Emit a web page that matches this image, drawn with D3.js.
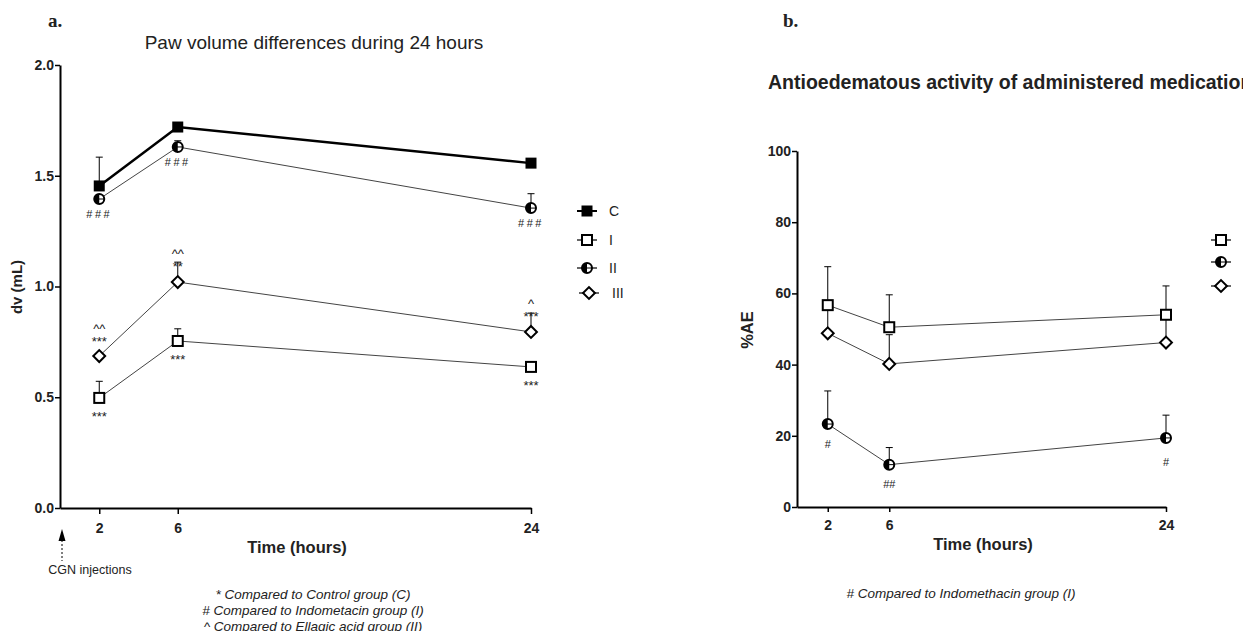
<!DOCTYPE html>
<html>
<head>
<meta charset="utf-8">
<script src="https://cdn.jsdelivr.net/npm/d3@7"></script>
<style>
  body { margin: 0; background: #fff; }
  svg text { font-family: "Liberation Sans", Arial, sans-serif; fill: #222; }
</style>
</head>
<body>
<svg id="chart" width="1243" height="631"></svg>
<script>
// hours after injection
const hours = [2, 6, 24];

// panel a: paw volume difference (mL), mean and SEM
const dvC = [1.454, 1.72, 1.557];
const dvCErr = [0.13, 0.005, 0.005];
const dvI = [0.497, 0.754, 0.637];
const dvIErr = [0.075, 0.055, 0.01];
const dvII = [1.395, 1.63, 1.354];
const dvIIErr = [0.01, 0.028, 0.065];
const dvIII = [0.686, 1.02, 0.795];
const dvIIIErr = [0.01, 0.09, 0.085];

// significance marks, panel a
const sigIIBelow = ["###", "###", "###"];
const sigIBelow = ["***", "***", "***"];
const sigIIIStar = ["***", "**", "***"];
const sigIIICaret = ["^^", "^^", "^"];

// panel b: % antioedematous effect, mean and SEM
const aeI = [56.7, 50.5, 54.0];
const aeIErr = [10.8, 9.1, 8.1];
const aeII = [23.3, 11.9, 19.4];
const aeIIErr = [9.3, 4.8, 6.4];
const aeIII = [48.8, 40.2, 46.2];
const aeIIIErr = [7.5, 8.2, 7.3];
const sigAeII = ["#", "##", "#"];

const yTicksA = [0, 0.5, 1.0, 1.5, 2.0];
const yTicksB = [0, 20, 40, 60, 80, 100];
const legendA = ["C", "I", "II", "III"];

const svg = d3.select("#chart");

// ---------- marker helpers ----------
function drawMarker(g, kind, x, y) {
  if (kind === "C") {
    g.append("rect").attr("x", x - 5.5).attr("y", y - 5.5).attr("width", 11).attr("height", 11)
      .attr("fill", "#000");
  } else if (kind === "I") {
    g.append("rect").attr("x", x - 5).attr("y", y - 5).attr("width", 10).attr("height", 10)
      .attr("fill", "#fff").attr("stroke", "#000").attr("stroke-width", 2);
  } else if (kind === "II") {
    g.append("circle").attr("cx", x).attr("cy", y).attr("r", 5)
      .attr("fill", "#fff").attr("stroke", "#000").attr("stroke-width", 2);
    g.append("path")
      .attr("transform", `translate(${x},${y})`)
      .attr("d", d3.arc()({ innerRadius: 0, outerRadius: 5, startAngle: Math.PI, endAngle: 2 * Math.PI }))
      .attr("fill", "#000");
    g.append("line").attr("x1", x - 5).attr("x2", x + 5).attr("y1", y).attr("y2", y)
      .attr("stroke", "#000").attr("stroke-width", 1);
  } else {
    g.append("rect").attr("x", x - 4.2).attr("y", y - 4.2).attr("width", 8.4).attr("height", 8.4)
      .attr("transform", `rotate(45 ${x} ${y})`)
      .attr("fill", "#fff").attr("stroke", "#000").attr("stroke-width", 2);
  }
}

function drawSeries(g, x, y, vals, errs, kind, width, color) {
  // error bars (upper only)
  hours.forEach((h, i) => {
    const px = x(h), top = y(vals[i] + errs[i]);
    g.append("line").attr("x1", px).attr("x2", px).attr("y1", y(vals[i])).attr("y2", top)
      .attr("stroke", "#000").attr("stroke-width", 1);
    g.append("line").attr("x1", px - 3.5).attr("x2", px + 3.5).attr("y1", top).attr("y2", top)
      .attr("stroke", "#000").attr("stroke-width", 1);
  });
  const line = d3.line().x((d, i) => x(hours[i])).y(d => y(d));
  g.append("path").attr("d", line(vals)).attr("fill", "none")
    .attr("stroke", color).attr("stroke-width", width);
  hours.forEach((h, i) => drawMarker(g, kind, x(h), y(vals[i])));
}

function styleAxis(a) {
  a.select(".domain").attr("stroke", "#000").attr("stroke-width", 2);
  a.selectAll(".tick line").attr("stroke", "#000").attr("stroke-width", 1.5);
  a.selectAll(".tick text").attr("font-weight", "bold").attr("font-size", 14)
    .attr("fill", "#111").attr("font-family", "Liberation Sans, Arial, sans-serif");
}

// ---------- panel a ----------
const xA = d3.scaleLinear().domain([0, 24]).range([60, 531]);
const yA = d3.scaleLinear().domain([0, 2]).range([508, 65]);
const gA = svg.append("g");

const axYA = gA.append("g").attr("transform", "translate(60,0)")
  .call(d3.axisLeft(yA).tickValues(yTicksA).tickFormat(d3.format(".1f")).tickSize(5).tickSizeOuter(0));
styleAxis(axYA);
axYA.selectAll(".tick text").attr("x", -6);
const axXA = gA.append("g").attr("transform", "translate(0,508)")
  .call(d3.axisBottom(xA).tickValues(hours).tickSize(6).tickSizeOuter(0));
styleAxis(axXA);
axXA.selectAll(".tick text").attr("dy", "1.15em");

drawSeries(gA, xA, yA, dvII, dvIIErr, "II", 1, "#444");
drawSeries(gA, xA, yA, dvC, dvCErr, "C", 2.5, "#000");
drawSeries(gA, xA, yA, dvIII, dvIIIErr, "III", 1, "#444");
drawSeries(gA, xA, yA, dvI, dvIErr, "I", 1, "#444");

const markA = gA.append("g").attr("font-size", 13).attr("text-anchor", "middle");
hours.forEach((h, i) => {
  markA.append("text").attr("x", xA(h)).attr("y", yA(dvII[i]) + 19).text(sigIIBelow[i])
    .attr("font-size", 11).attr("letter-spacing", 2.5);
  markA.append("text").attr("x", xA(h)).attr("y", yA(dvI[i]) + 23).text(sigIBelow[i]);
  markA.append("text").attr("x", xA(h)).attr("y", yA(dvIII[i]) - (i === 0 ? 10 : 11)).text(sigIIIStar[i]);
  markA.append("text").attr("x", xA(h)).attr("y", yA(dvIII[i]) - (i === 0 ? 23 : 24)).text(sigIIICaret[i]);
});

svg.append("text").attr("x", 314).attr("y", 49).attr("text-anchor", "middle")
  .attr("font-size", 19).text("Paw volume differences during 24 hours");
svg.append("text").attr("x", 48).attr("y", 27)
  .style("font-family", "Liberation Serif, serif").attr("font-weight", "bold").attr("font-size", 19).text("a.");
svg.append("text").attr("transform", "translate(22,287) rotate(-90)").attr("text-anchor", "middle")
  .attr("font-weight", "bold").attr("font-size", 15).text("dv (mL)");
svg.append("text").attr("x", 297).attr("y", 553).attr("text-anchor", "middle")
  .attr("font-weight", "bold").attr("font-size", 16.5).text("Time (hours)");

// CGN injection marker
svg.append("line").attr("x1", 62).attr("x2", 62).attr("y1", 540).attr("y2", 561)
  .attr("stroke", "#000").attr("stroke-width", 1).attr("stroke-dasharray", "2,2");
svg.append("path").attr("d", "M62,529 L58.5,541 L65.5,541 Z").attr("fill", "#000");
svg.append("text").attr("x", 90).attr("y", 574).attr("text-anchor", "middle")
  .attr("font-size", 12.5).text("CGN injections");

// legend a
const legA = svg.append("g");
legendA.forEach((name, i) => {
  const ly = [211, 240, 268, 293][i];
  const lx = i === 3 ? 589 : 587;
  legA.append("line").attr("x1", lx - 10).attr("x2", lx + 10).attr("y1", ly).attr("y2", ly)
    .attr("stroke", "#000").attr("stroke-width", i === 0 ? 2 : 1.2);
  drawMarker(legA, name, lx, ly);
  legA.append("text").attr("x", i === 3 ? 612 : 609).attr("y", ly + 5).attr("font-size", 14)
    .attr("fill", "#333").text(name);
});

// footnotes a
const notesA = ["* Compared to Control group (C)", "# Compared to Indometacin group (I)", "^ Compared to Ellagic acid group (II)"];
notesA.forEach((t, i) => {
  svg.append("text").attr("x", 313).attr("y", 599 + i * 16).attr("text-anchor", "middle")
    .attr("font-size", 13.5).attr("font-style", "italic").attr("fill", "#333").text(t);
});

// ---------- panel b ----------
const xB = d3.scaleLinear().domain([0, 24]).range([797, 1166]);
const yB = d3.scaleLinear().domain([0, 100]).range([507, 151]);
const gB = svg.append("g");

const axYB = gB.append("g").attr("transform", "translate(797,0)")
  .call(d3.axisLeft(yB).tickValues(yTicksB).tickSize(5).tickSizeOuter(0));
styleAxis(axYB);
axYB.selectAll(".tick text").attr("x", -6);
const axXB = gB.append("g").attr("transform", "translate(0,507)")
  .call(d3.axisBottom(xB).tickValues(hours).tickSize(5).tickSizeOuter(0));
styleAxis(axXB);
axXB.selectAll(".tick text").attr("dy", "1.1em");

drawSeries(gB, xB, yB, aeIII, aeIIIErr, "III", 1, "#444");
drawSeries(gB, xB, yB, aeI, aeIErr, "I", 1, "#444");
drawSeries(gB, xB, yB, aeII, aeIIErr, "II", 1, "#444");

const markB = gB.append("g").attr("font-size", 11).attr("text-anchor", "middle");
hours.forEach((h, i) => {
  const off = [24, 23, 28][i];
  markB.append("text").attr("x", xB(h)).attr("y", yB(aeII[i]) + off).text(sigAeII[i]);
});

svg.append("text").attr("x", 768).attr("y", 89).attr("font-weight", "bold")
  .attr("font-size", 19.5).text("Antioedematous activity of administered medications");
svg.append("text").attr("x", 783).attr("y", 27).style("font-family", "Liberation Serif, serif")
  .attr("font-weight", "bold").attr("font-size", 19).text("b.");
svg.append("text").attr("transform", "translate(753,330) rotate(-90)").attr("text-anchor", "middle")
  .attr("font-weight", "bold").attr("font-size", 16.5).text("%AE");
svg.append("text").attr("x", 983).attr("y", 550).attr("text-anchor", "middle")
  .attr("font-weight", "bold").attr("font-size", 16.5).text("Time (hours)");

// legend b (labels cut off in the original)
["I", "II", "III"].forEach((name, i) => {
  const ly = [240, 262, 286][i];
  svg.append("line").attr("x1", 1211).attr("x2", 1231).attr("y1", ly).attr("y2", ly)
    .attr("stroke", "#000").attr("stroke-width", 1.2);
  drawMarker(svg, name, 1221, ly);
});

svg.append("text").attr("x", 961).attr("y", 598).attr("text-anchor", "middle")
  .attr("font-size", 13.5).attr("font-style", "italic").attr("fill", "#333")
  .text("# Compared to Indomethacin group (I)");
</script>
</body>
</html>
